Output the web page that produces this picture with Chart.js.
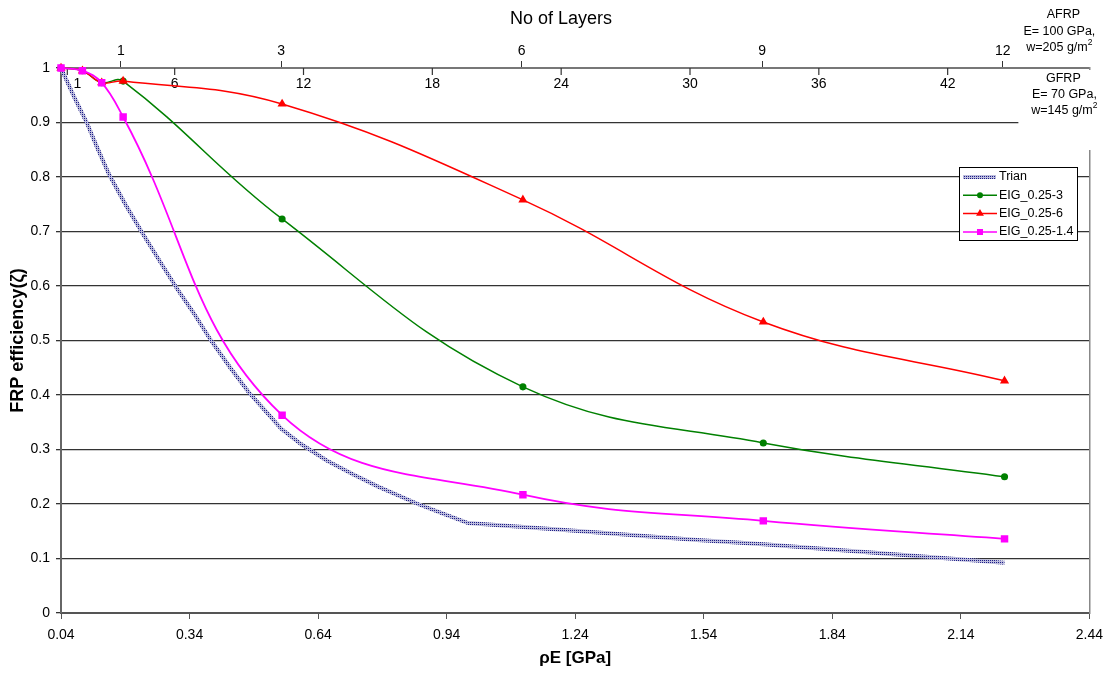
<!DOCTYPE html>
<html>
<head>
<meta charset="utf-8">
<script src="https://cdn.jsdelivr.net/npm/chart.js@4.4.1/dist/chart.umd.min.js"></script>
<style>
  body { margin: 0; background: #fff; }
  #wrap { width: 1111px; height: 675px; }
</style>
</head>
<body>
<div id="wrap"><canvas id="chart_elem" width="1111" height="675"></canvas></div>
<script>

// data
const rhoE = [0.04, 0.09, 0.135, 0.185, 0.556, 1.118, 1.679, 2.242];
const eig3 = [1.0, 0.995, 0.973, 0.976, 0.723, 0.415, 0.312, 0.250];
const eig6 = [1.0, 0.995, 0.973, 0.976, 0.934, 0.758, 0.534, 0.426];
const eig14 = [1.0, 0.995, 0.973, 0.910, 0.363, 0.217, 0.169, 0.136];

const trianX = [0.04, 0.07, 0.10, 0.125, 0.152, 0.19, 0.233, 0.275, 0.315, 0.35, 0.39, 0.435, 0.478, 0.52, 0.554,
  0.60, 0.66, 0.72, 0.78, 0.873, 0.93, 0.99, 1.2, 1.525, 1.68, 1.9, 2.242];
const trianY = [1.0, 0.948, 0.90, 0.853, 0.805, 0.75, 0.693, 0.64, 0.59, 0.55, 0.50, 0.45, 0.405, 0.368, 0.338,
  0.31, 0.28, 0.255, 0.232, 0.200, 0.183, 0.165, 0.153, 0.134, 0.126, 0.113, 0.092];

const xTicks = [0.04, 0.34, 0.64, 0.94, 1.24, 1.54, 1.84, 2.14, 2.44];
const afrpLayers = [1, 3, 6, 9, 12];
const gfrpLayers = [1, 6, 12, 18, 24, 30, 36, 42];

const labels = ['Trian', 'EIG_0.25-3', 'EIG_0.25-6', 'EIG_0.25-1.4'];

const FONT = "'Liberation Sans', Arial, sans-serif";
Chart.defaults.font.family = FONT;
Chart.defaults.color = '#000';

// hatched pattern for the Trian line
const pc = document.createElement('canvas');
pc.width = 4; pc.height = 4;
const pg = pc.getContext('2d');
pg.fillStyle = '#bcbcdc';
pg.fillRect(0, 0, 4, 4);
pg.fillStyle = '#1c1c86';
pg.fillRect(0, 0, 1, 1);
pg.fillRect(2, 2, 1, 1);
pg.fillRect(2, 0, 1, 1);
pg.fillRect(0, 2, 1, 1);
const trianPattern = pg.createPattern(pc, 'repeat');

const toXY = (xs, ys) => xs.map((x, i) => ({ x: x, y: ys[i] }));

const data = {
  datasets: [{
    label: labels[0],
    data: toXY(trianX, trianY),
    borderColor: trianPattern,
    borderWidth: 4,
    pointRadius: 0,
    tension: 0,
    order: 4,
    clip: false
  }, {
    label: labels[1],
    data: toXY(rhoE, eig3),
    borderColor: '#008000',
    backgroundColor: '#008000',
    borderWidth: 1.5,
    pointStyle: 'circle',
    pointRadius: 2.8,
    tension: 0.4,
    order: 3,
    clip: false
  }, {
    label: labels[2],
    data: toXY(rhoE, eig6),
    borderColor: '#ff0000',
    backgroundColor: '#ff0000',
    borderWidth: 1.5,
    pointStyle: 'triangle',
    pointRadius: 3.8,
    tension: 0.4,
    order: 2,
    clip: false
  }, {
    label: labels[3],
    data: toXY(rhoE, eig14),
    borderColor: '#ff00ff',
    backgroundColor: '#ff00ff',
    borderWidth: 1.8,
    pointStyle: 'rect',
    pointRadius: 4,
    tension: 0.4,
    order: 1,
    clip: false
  }]
};

const supText = (ctx, base, sup, cx, y) => {
  ctx.font = '12.5px ' + FONT;
  const wb = ctx.measureText(base).width;
  ctx.font = '8.5px ' + FONT;
  const ws = ctx.measureText(sup).width;
  const x0 = cx - (wb + ws) / 2;
  ctx.textAlign = 'left';
  ctx.font = '12.5px ' + FONT;
  ctx.fillText(base, x0, y);
  ctx.font = '8.5px ' + FONT;
  ctx.fillText(sup, x0 + wb, y - 5);
  ctx.textAlign = 'center';
};

// GFRP layer axis (ticks below the top line) and the fibre notes
const layerNotes = {
  id: 'layerNotes',
  beforeDatasetsDraw(chart) {
    const ctx = chart.ctx;
    const area = chart.chartArea;
    const x3 = chart.scales.x3;
    ctx.save();
    ctx.fillStyle = '#fff';
    ctx.fillRect(area.right - 71, area.top + 2, chart.width - area.right + 71, 80);

    ctx.strokeStyle = '#333';
    ctx.lineWidth = 1.2;
    ctx.fillStyle = '#000';
    ctx.font = '14px ' + FONT;
    ctx.textAlign = 'center';
    ctx.textBaseline = 'middle';
    gfrpLayers.forEach((n) => {
      const px = x3.getPixelForValue(n);
      ctx.beginPath();
      ctx.moveTo(px, area.top);
      ctx.lineTo(px, area.top + 7);
      ctx.stroke();
      ctx.fillText(String(n), px + (n === 1 ? 10 : 0), area.top + 16);
    });

    const cx = area.right - 26;
    ctx.font = '12.5px ' + FONT;
    ctx.fillText('AFRP', cx, 15);
    ctx.fillText('E= 100 GPa,', cx - 4, 32);
    supText(ctx, 'w=205 g/m', '2', cx - 4, 48);
    ctx.font = '12.5px ' + FONT;
    ctx.fillText('GFRP', cx, 79);
    ctx.fillText('E= 70 GPa,', cx + 1, 95);
    supText(ctx, 'w=145 g/m', '2', cx + 1, 111);

    ctx.font = '18px ' + FONT;
    ctx.fillText('No of Layers', 561, 19);
    ctx.restore();
  }
};

// legend box inside the plot
const boxLegend = {
  id: 'boxLegend',
  afterDraw(chart) {
    const ctx = chart.ctx;
    const bx = 959, by = 167, bw = 118, bh = 73;
    ctx.save();
    ctx.fillStyle = '#fff';
    ctx.fillRect(bx, by, bw, bh);
    ctx.strokeStyle = '#000';
    ctx.lineWidth = 1;
    ctx.strokeRect(bx + 0.5, by + 0.5, bw, bh);
    ctx.font = '12.5px ' + FONT;
    ctx.textBaseline = 'middle';
    ctx.textAlign = 'left';
    chart.data.datasets.forEach((ds, i) => {
      const y = by + 10 + i * 18.3;
      if (i === 0) {
        ctx.fillStyle = ds.borderColor;
        ctx.fillRect(bx + 4, y - 2, 33, 4);
      } else {
        ctx.strokeStyle = ds.borderColor;
        ctx.lineWidth = 1.5;
        ctx.beginPath();
        ctx.moveTo(bx + 4, y);
        ctx.lineTo(bx + 38, y);
        ctx.stroke();
        Chart.helpers.drawPoint(ctx, {
          pointStyle: ds.pointStyle, radius: ds.pointRadius * 0.8, borderWidth: 1
        }, bx + 21, y);
        ctx.fillStyle = ds.backgroundColor;
        ctx.fill();
      }
      ctx.fillStyle = '#000';
      ctx.fillText(ds.label, bx + 40, y);
    });
    ctx.restore();
  }
};

const config = {
  type: 'line',
  data,
  options: {
    responsive: false,
    animation: false,
    layout: { padding: 0 },
    plugins: {
      legend: { display: false },
      tooltip: { enabled: false }
    },
    scales: {
      x: {
        type: 'linear',
        position: 'bottom',
        min: 0.04,
        max: 2.44,
        afterBuildTicks: (scale) => { scale.ticks = xTicks.map((v) => ({ value: v })); },
        afterFit: (scale) => { scale.height = 62; },
        ticks: {
          font: { size: 14 },
          padding: 8,
          maxRotation: 0,
          callback: (v) => Number(v).toFixed(2)
        },
        grid: { drawOnChartArea: false, tickLength: 6, color: '#555' },
        border: { color: '#555', width: 2 },
        title: {
          display: true,
          text: 'ρE [GPa]',
          font: { size: 17, weight: 'bold' },
          padding: { top: 0, bottom: 6 }
        }
      },
      x2: {
        type: 'linear',
        position: 'top',
        min: 0.254,
        max: 13.08,
        afterBuildTicks: (scale) => { scale.ticks = afrpLayers.map((v) => ({ value: v })); },
        afterFit: (scale) => { scale.height = 68; },
        ticks: { font: { size: 14 }, padding: 1, maxRotation: 0 },
        grid: { drawOnChartArea: false, tickLength: 7, color: '#333' },
        border: { color: '#777', width: 2 }
      },
      x3: {
        type: 'linear',
        position: 'top',
        display: false,
        min: 0.706,
        max: 48.6
      },
      y: {
        type: 'linear',
        position: 'left',
        min: 0,
        max: 1,
        afterFit: (scale) => { scale.width = 61; },
        ticks: {
          stepSize: 0.1,
          font: { size: 14 },
          padding: 6,
          callback: (v) => String(Number(v.toFixed(1)))
        },
        grid: { color: '#333', lineWidth: 1.3, tickLength: 5 },
        border: { color: '#666', width: 2 },
        title: {
          display: true,
          text: 'FRP efficiency(ζ)',
          font: { size: 18, weight: 'bold' },
          padding: { top: 7, bottom: 0 }
        }
      },
      yR: {
        type: 'linear',
        position: 'right',
        min: 0,
        max: 1,
        afterFit: (scale) => { scale.width = 18; },
        ticks: { display: false },
        grid: { display: false },
        border: { color: '#888', width: 1.5 }
      }
    }
  },
  plugins: [layerNotes, boxLegend]
};

const canvas = document.getElementById('chart_elem');
const ctx = canvas.getContext('2d');
const chart = new Chart(ctx, config);

</script>
</body>
</html>
